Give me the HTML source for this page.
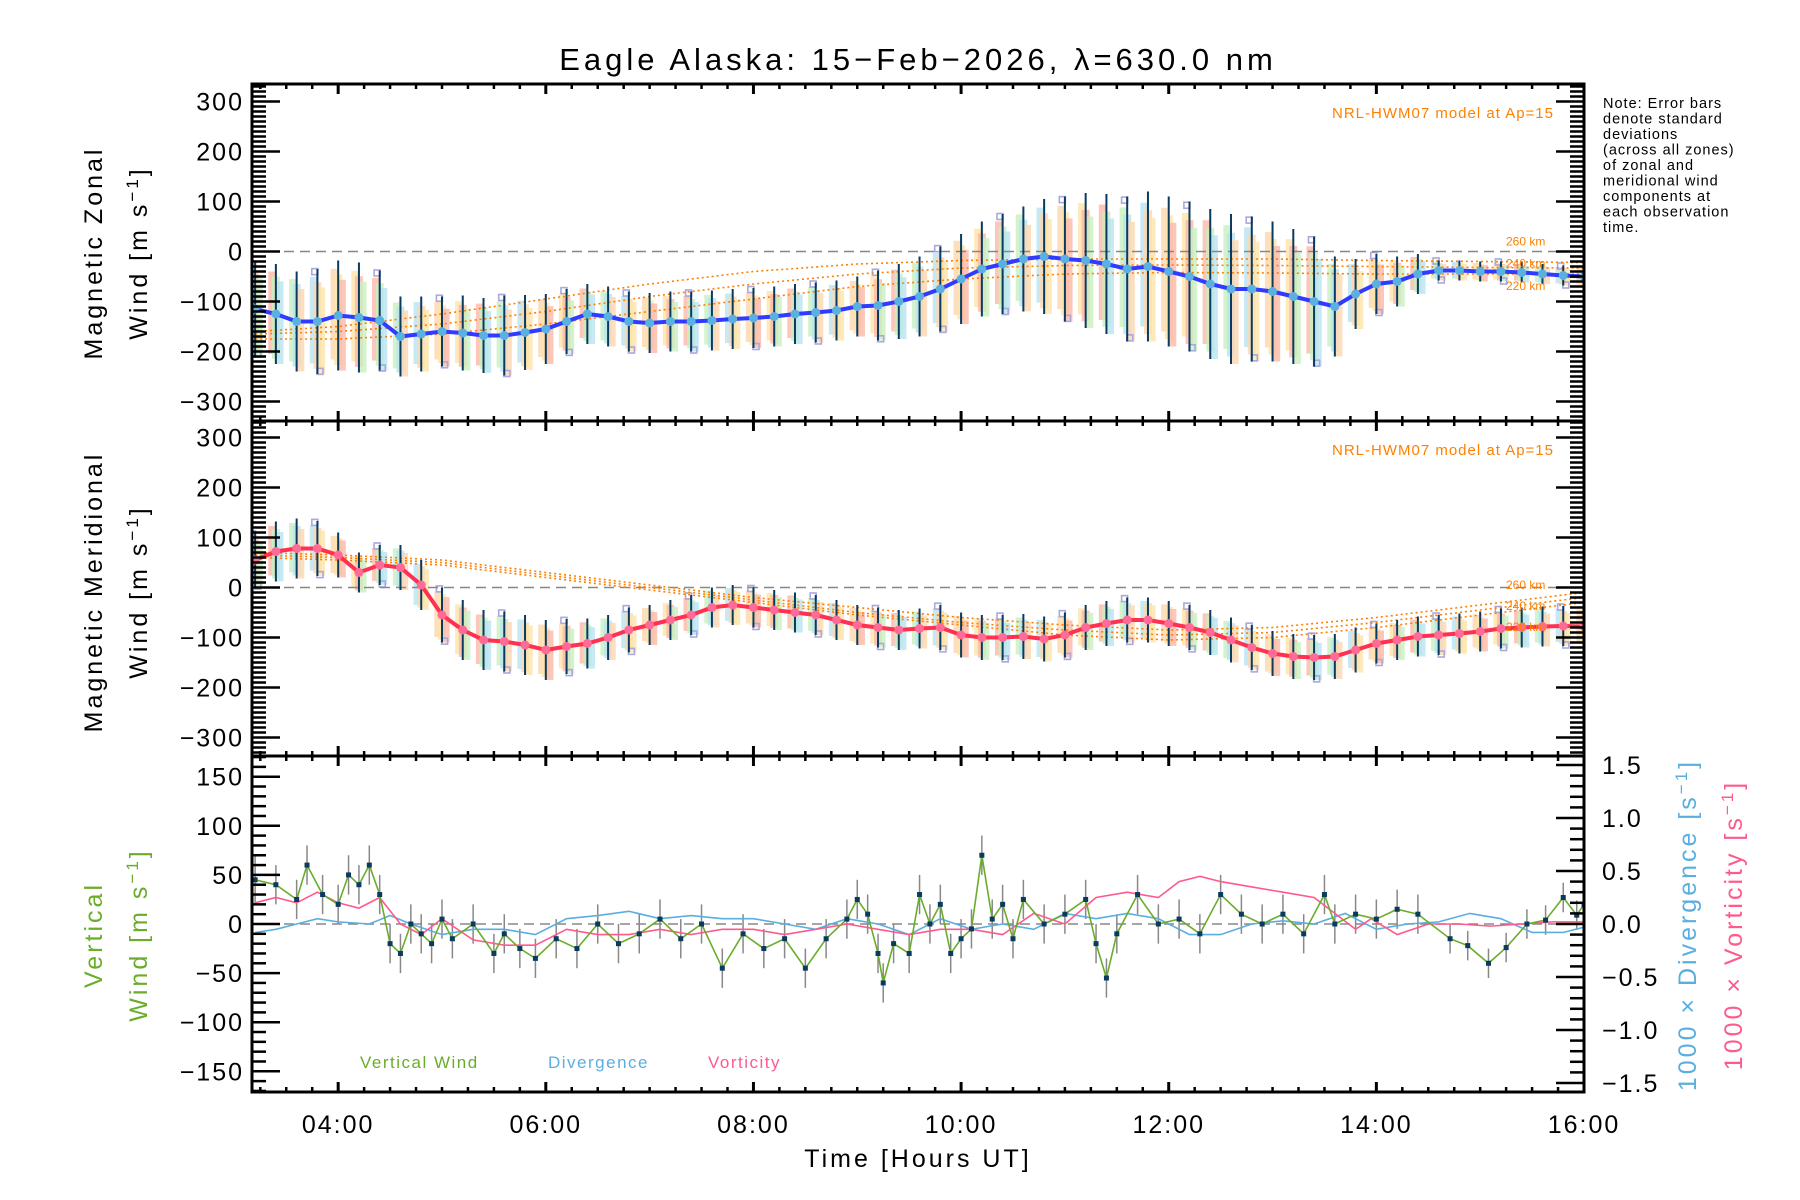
<!DOCTYPE html>
<html><head><meta charset="utf-8">
<style>
html,body{margin:0;padding:0;background:#fff;}
svg{display:block;font-family:"Liberation Sans",sans-serif;}
</style></head>
<body>
<svg id="chart" width="1800" height="1200" viewBox="0 0 1800 1200" xmlns="http://www.w3.org/2000/svg">
<rect x="0" y="0" width="1800" height="1200" fill="#fff"/>
<text x="918" y="70" font-size="31" letter-spacing="4" text-anchor="middle" fill="#000">Eagle Alaska: 15−Feb−2026, λ=630.0 nm</text>
<g id="plots"></g>
<text font-size="14.5" letter-spacing="1" fill="#000">
<tspan x="1603" y="108">Note: Error bars</tspan>
<tspan x="1603" y="123.5">denote standard</tspan>
<tspan x="1603" y="139">deviations</tspan>
<tspan x="1603" y="154.5">(across all zones)</tspan>
<tspan x="1603" y="170">of zonal and</tspan>
<tspan x="1603" y="185.5">meridional wind</tspan>
<tspan x="1603" y="201">components at</tspan>
<tspan x="1603" y="216.5">each observation</tspan>
<tspan x="1603" y="232">time.</tspan>
</text>
<text transform="translate(102,253) rotate(-90)" font-size="25" letter-spacing="3" text-anchor="middle">Magnetic Zonal</text>
<text transform="translate(147,253) rotate(-90)" font-size="25" letter-spacing="3" text-anchor="middle">Wind [m s<tspan baseline-shift="super" font-size="17">−1</tspan>]</text>
<text transform="translate(102,592) rotate(-90)" font-size="25" letter-spacing="3" text-anchor="middle">Magnetic Meridional</text>
<text transform="translate(147,592) rotate(-90)" font-size="25" letter-spacing="3" text-anchor="middle">Wind [m s<tspan baseline-shift="super" font-size="17">−1</tspan>]</text>
<text transform="translate(102,935) rotate(-90)" font-size="25" letter-spacing="3" text-anchor="middle" fill="#6aad2a">Vertical</text>
<text transform="translate(147,935) rotate(-90)" font-size="25" letter-spacing="3" text-anchor="middle" fill="#6aad2a">Wind [m s<tspan baseline-shift="super" font-size="17">−1</tspan>]</text>
<text transform="translate(1696,925) rotate(-90)" font-size="25" letter-spacing="3" text-anchor="middle" fill="#5aaee0">1000 × Divergence [s<tspan baseline-shift="super" font-size="17">−1</tspan>]</text>
<text transform="translate(1742,925) rotate(-90)" font-size="25" letter-spacing="3" text-anchor="middle" fill="#ff5a8c">1000 × Vorticity [s<tspan baseline-shift="super" font-size="17">−1</tspan>]</text>
<text x="918" y="1167" font-size="25" letter-spacing="3" text-anchor="middle">Time [Hours UT]</text>
<text x="360" y="1068" font-size="17" letter-spacing="1.5" fill="#6aad2a">Vertical Wind</text>
<text x="548" y="1068" font-size="17" letter-spacing="1.5" fill="#5aaee0">Divergence</text>
<text x="708" y="1068" font-size="17" letter-spacing="1.5" fill="#ff5a8c">Vorticity</text>
</svg>
<script>
// ---- data ----
const meanTimes = [3.2,3.4,3.6,3.8,4.0,4.2,4.4,4.6,4.8,5.0,5.2,5.4,5.6,5.8,6.0,6.2,6.4,6.6,6.8,7.0,7.2,7.4,7.6,7.8,8.0,8.2,8.4,8.6,8.8,9.0,9.2,9.4,9.6,9.8,10.0,10.2,10.4,10.6,10.8,11.0,11.2,11.4,11.6,11.8,12.0,12.2,12.4,12.6,12.8,13.0,13.2,13.4,13.6,13.8,14.0,14.2,14.4,14.6,14.8,15.0,15.2,15.4,15.6,15.8,16.0];
const zonalMean = [-115,-125,-140,-140,-128,-132,-138,-170,-165,-160,-163,-168,-168,-162,-155,-140,-125,-130,-140,-143,-140,-140,-138,-135,-133,-130,-125,-122,-118,-110,-108,-100,-90,-75,-55,-35,-25,-15,-10,-15,-18,-25,-35,-30,-40,-50,-65,-75,-75,-80,-90,-100,-110,-85,-65,-60,-45,-38,-38,-40,-40,-42,-45,-48,-50];
const zonalErr = [95,100,100,105,110,110,100,80,75,70,75,75,80,75,70,65,60,60,60,60,60,60,60,60,60,60,60,60,60,60,70,75,80,85,90,95,100,105,115,125,135,140,145,150,150,150,150,150,145,140,135,130,100,70,60,50,40,20,20,20,20,20,20,20,20];
const meridMean = [55,72,78,78,65,30,45,40,5,-55,-85,-105,-108,-115,-125,-118,-112,-100,-85,-75,-65,-55,-40,-35,-40,-45,-50,-55,-65,-75,-80,-85,-82,-80,-95,-100,-100,-98,-103,-95,-80,-72,-65,-65,-72,-80,-90,-105,-120,-132,-138,-140,-138,-125,-112,-105,-98,-95,-92,-88,-82,-80,-78,-77,-78];
const meridErr = [55,60,60,55,45,40,40,45,50,55,60,60,60,60,60,55,50,45,45,40,40,40,40,40,40,40,40,40,40,40,40,40,40,45,45,45,45,45,45,45,45,45,45,45,45,45,45,45,45,45,45,45,45,45,40,40,40,40,40,40,40,40,40,40,40];
const modelTimes = [3.2,4,5,6,7,8,9,10,11,12,13,14,15,16];
const zonalModel260 = [-160,-150,-125,-95,-65,-40,-25,-18,-15,-15,-15,-18,-20,-22];
const zonalModel240 = [-165,-160,-145,-120,-90,-65,-45,-33,-28,-27,-28,-30,-32,-33];
const zonalModel220 = [-175,-175,-165,-145,-120,-95,-70,-55,-45,-42,-43,-45,-45,-45];
const meridModel260 = [70,65,55,30,5,-20,-40,-60,-75,-85,-80,-60,-35,-10];
const meridModel240 = [65,60,50,25,0,-25,-50,-70,-85,-95,-90,-70,-45,-20];
const meridModel220 = [60,55,45,20,-5,-30,-55,-75,-95,-105,-100,-80,-55,-30];
const vertTimes = [3.2,3.4,3.6,3.7,3.85,4.0,4.1,4.2,4.3,4.4,4.5,4.6,4.7,4.8,4.9,5.0,5.1,5.3,5.5,5.6,5.75,5.9,6.1,6.3,6.5,6.7,6.9,7.1,7.3,7.5,7.7,7.9,8.1,8.3,8.5,8.7,8.9,9.0,9.1,9.2,9.25,9.35,9.5,9.6,9.7,9.8,9.9,10.0,10.1,10.2,10.3,10.4,10.5,10.6,10.8,11.0,11.2,11.3,11.4,11.5,11.7,11.9,12.1,12.3,12.5,12.7,12.9,13.1,13.3,13.5,13.6,13.8,14.0,14.2,14.4,14.71,14.88,15.08,15.25,15.45,15.63,15.8,15.93,16.0];
const vertWind = [45,40,25,60,30,20,50,40,60,30,-20,-30,0,-10,-20,5,-15,0,-30,-10,-25,-35,-15,-25,0,-20,-10,5,-15,0,-45,-10,-25,-15,-45,-15,5,25,10,-30,-60,-20,-30,30,0,20,-30,-15,-5,70,5,20,-15,25,0,10,25,-20,-55,-10,30,0,5,-10,30,10,0,10,-10,30,0,10,5,15,10,-15,-22,-40,-24,0,4,27,9,20];
const vertErr = [25,20,20,20,20,20,20,20,20,20,20,20,20,20,20,20,20,20,20,20,20,20,20,20,20,20,20,20,20,20,20,20,20,20,20,20,20,20,20,20,20,20,20,20,20,20,20,20,20,20,20,20,20,20,20,20,20,20,20,20,20,20,20,20,20,20,20,20,20,20,20,20,20,20,20,15,15,15,15,15,15,15,15,15];
const divTimes = [3.2,3.4,3.6,3.8,4.0,4.3,4.5,4.7,5.0,5.3,5.6,5.9,6.2,6.5,6.8,7.1,7.4,7.7,8.0,8.3,8.6,8.9,9.2,9.5,9.8,10.1,10.4,10.7,11.0,11.3,11.6,11.9,12.2,12.5,12.8,13.1,13.4,13.7,14.0,14.3,14.6,14.9,15.2,15.5,15.8,16.0];
const divValues = [-0.08,-0.05,0.0,0.05,0.02,0.0,0.08,0.0,-0.1,-0.05,-0.05,-0.1,0.05,0.08,0.12,0.05,0.08,0.05,0.05,0.0,-0.05,0.05,0.0,-0.1,0.05,-0.05,0.0,-0.05,0.1,0.05,0.1,0.05,-0.1,-0.1,0.0,0.03,0.0,0.1,-0.05,0.0,0.02,0.1,0.05,-0.08,-0.08,-0.03];
const vortTimes = [3.2,3.4,3.6,3.8,4.0,4.2,4.4,4.6,4.8,5.0,5.3,5.6,5.9,6.2,6.5,6.8,7.1,7.4,7.7,8.0,8.3,8.6,8.9,9.2,9.5,9.8,10.1,10.4,10.7,11.0,11.3,11.6,11.9,12.1,12.3,12.5,12.8,13.1,13.4,13.6,13.8,13.95,14.2,14.5,14.8,15.1,15.4,15.7,16.0];
const vortValues = [0.2,0.25,0.2,0.3,0.2,0.15,0.25,0.0,-0.1,0.05,-0.15,-0.2,-0.2,-0.05,-0.1,-0.1,-0.05,-0.1,-0.05,-0.05,-0.1,-0.05,0.0,-0.05,-0.1,-0.05,-0.05,-0.1,0.1,0.0,0.25,0.3,0.25,0.4,0.45,0.4,0.35,0.3,0.25,0.1,-0.05,0.05,-0.1,0.0,0.0,-0.02,0.0,0.02,0.02];
const xTickLabels = ["04:00","06:00","08:00","10:00","12:00","14:00","16:00"];
const xTickHours = [4,6,8,10,12,14,16];
const windTicks = [-300,-200,-100,0,100,200,300];
const vertTicks = [-150,-100,-50,0,50,100,150];
const rightTicks = [-1.5,-1.0,-0.5,0.0,0.5,1.0,1.5];

// ---- layout ----
const NS = "http://www.w3.org/2000/svg";
const L = 252, R = 1584, T0 = 3.17, T1 = 16.0;
const P = [{top:84,bot:421,zero:251.5,k:0.5},{top:421,bot:756,zero:587.5,k:0.5},{top:756,bot:1092,zero:924,k:0.982}];
const rk = 159/1.5;
const X = t => L + (t - T0) * (R - L) / (T1 - T0);
const Y = (p, v) => P[p].zero - v * P[p].k;
const YR = v => P[2].zero - v * rk;
const root = document.getElementById('plots');
function mk(tag, attrs, parent) {
  const e = document.createElementNS(NS, tag);
  for (const a in attrs) e.setAttribute(a, attrs[a]);
  (parent || root).appendChild(e);
  return e;
}
function clip(p) {
  const c = mk('clipPath', {id: 'clip' + p});
  mk('rect', {x: L, y: P[p].top, width: R - L, height: P[p].bot - P[p].top}, c);
  return mk('g', {'clip-path': 'url(#clip' + p + ')'});
}
const fmt = v => (v < 0 ? '−' : '') + Math.abs(v);

function windPanel(p, mean, err, m260, m240, m220, lineCol, dotCol, nameBase) {
  const g = clip(p);
  
  
  const pastel = ['#fde3a8', '#fbb9a8', '#c8f0c0', '#b8e4f0', '#fdd7b0'];
  meanTimes.forEach((t, i) => {
    for (let j = 0; j < 3; j++) {
      const off = (j - 1) * 0.035;
      const top = mean[i] + err[i] * (0.85 - 0.1 * j);
      const bot = mean[i] - err[i] * (0.8 + 0.1 * j);
      const r = mk('rect', {x: X(t + off) - 4, y: Y(p, top), width: 8, height: Y(p, bot) - Y(p, top), fill: pastel[(i + j) % 5], opacity: 0.8}, g);
      
      
    }
    if (i % 3 === 0) {
      [0.95, -0.95].forEach((f, j) => {
        const s = mk('rect', {x: X(t + (j - 0.5) * 0.05) - 3, y: Y(p, mean[i] + err[i] * f) - 3, width: 6, height: 6, fill: 'none', stroke: '#aaa8dc', 'stroke-width': 1.6}, g);
        
        
      });
    }
  });
  const z = mk('line', {x1: L, x2: R, y1: Y(p, 0), y2: Y(p, 0), stroke: '#888', 'stroke-width': 1.5, 'stroke-dasharray': '10,6'}, g);
  
  
  [[m260, '260 km', -8], [m240, '240 km', 8], [m220, '220 km', 24]].forEach(([arr, lbl, dy]) => {
    const pl = mk('polyline', {points: modelTimes.map((t, i) => X(t) + ',' + Y(p, arr[i])).join(' '), fill: 'none', stroke: '#ff8000', 'stroke-width': 1.6, 'stroke-dasharray': '2,3'}, g);
    
    
    const tx = mk('text', {x: 1506, y: Y(p, arr[arr.length - 2]) + dy - 8, 'font-size': 12, fill: '#ff8000'});
    tx.textContent = lbl;
    
    
  });
  meanTimes.forEach((t, i) => {
    const b = mk('line', {x1: X(t), x2: X(t), y1: Y(p, mean[i] + err[i]), y2: Y(p, mean[i] - err[i]), stroke: '#0a3a5e', 'stroke-width': 2}, g);
    
    
  });
  const ml = mk('polyline', {points: meanTimes.map((t, i) => X(t) + ',' + Y(p, mean[i])).join(' '), fill: 'none', stroke: lineCol, 'stroke-width': 4}, g);
  
  
  meanTimes.forEach((t, i) => {
    const c = mk('circle', {cx: X(t), cy: Y(p, mean[i]), r: 4.5, fill: dotCol}, g);
    
    
  });
  const nl = mk('text', {x: 1554, y: P[p].top + 34, 'font-size': 15, 'letter-spacing': 1, fill: '#ff8000', 'text-anchor': 'end'});
  nl.textContent = 'NRL-HWM07 model at Ap=15';
  
  
}
windPanel(0, zonalMean, zonalErr, zonalModel260, zonalModel240, zonalModel220, '#2f3cff', '#5ab0e0', 'zonal');
windPanel(1, meridMean, meridErr, meridModel260, meridModel240, meridModel220, '#ff3050', '#ff6a96', 'meridional');

(function () {
  const g = clip(2);
  
  
  const z = mk('line', {x1: L, x2: R, y1: Y(2, 0), y2: Y(2, 0), stroke: '#888', 'stroke-width': 1.5, 'stroke-dasharray': '10,6'}, g);
  
  
  vertTimes.forEach((t, i) => {
    const b = mk('line', {x1: X(t), x2: X(t), y1: Y(2, vertWind[i] + vertErr[i]), y2: Y(2, vertWind[i] - vertErr[i]), stroke: '#888', 'stroke-width': 1.5}, g);
    
    
  });
  const dl = mk('polyline', {points: divTimes.map((t, i) => X(t) + ',' + YR(divValues[i])).join(' '), fill: 'none', stroke: '#5aaee0', 'stroke-width': 1.6}, g);
  
  
  const vl = mk('polyline', {points: vortTimes.map((t, i) => X(t) + ',' + YR(vortValues[i])).join(' '), fill: 'none', stroke: '#ff5a8c', 'stroke-width': 1.6}, g);
  
  
  const wl = mk('polyline', {points: vertTimes.map((t, i) => X(t) + ',' + Y(2, vertWind[i])).join(' '), fill: 'none', stroke: '#6aad2a', 'stroke-width': 1.6}, g);
  
  
  vertTimes.forEach((t, i) => {
    const s = mk('rect', {x: X(t) - 2.5, y: Y(2, vertWind[i]) - 2.5, width: 5, height: 5, fill: '#0a3a5e'}, g);
    
    
  });
})();

const ax = mk('g', {stroke: '#000'});


P.forEach((pp, p) => {
  const fr = mk('rect', {x: L, y: pp.top, width: R - L, height: pp.bot - pp.top, fill: 'none', 'stroke-width': 3}, ax);
  
  
  for (let m = Math.ceil(T0 * 4); m <= T1 * 4; m++) {
    const t = m / 4, major = (m % 8 === 0), len = major ? 10 : 5;
    mk('line', {x1: X(t), x2: X(t), y1: pp.bot, y2: pp.bot - len, 'stroke-width': major ? 3 : 2.5}, ax);
    mk('line', {x1: X(t), x2: X(t), y1: pp.top, y2: pp.top + len, 'stroke-width': major ? 3 : 2.5}, ax);
  }
});
function yTicks(p, lo, hi, step, majorStep, side, Yf) {
  const pp = P[p];
  for (let v = lo; v <= hi + 1e-9; v += step) {
    const y = Yf(v);
    if (y < pp.top - 0.5 || y > pp.bot + 0.5) continue;
    const major = Math.abs(v / majorStep - Math.round(v / majorStep)) < 1e-6;
    const len = major ? 28 : 14;
    const x0 = side === 'L' ? L : R;
    const x1 = side === 'L' ? L + len : R - len;
    mk('line', {x1: x0, x2: x1, y1: y, y2: y, 'stroke-width': 2.5}, ax);
  }
}
yTicks(0, -340, 340, 10, 100, 'L', v => Y(0, v));
yTicks(0, -340, 340, 10, 100, 'R', v => Y(0, v));
yTicks(1, -340, 340, 10, 100, 'L', v => Y(1, v));
yTicks(1, -340, 340, 10, 100, 'R', v => Y(1, v));
yTicks(2, -170, 170, 10, 50, 'L', v => Y(2, v));
yTicks(2, -1.6, 1.6, 0.1, 0.5, 'R', v => YR(v));

function label(x, y, txt, anchor, name) {
  const t = mk('text', {x: x, y: y, 'font-size': 25, 'letter-spacing': 2, 'text-anchor': anchor, fill: '#000'});
  t.textContent = txt;
  
  
}
[0, 1].forEach(p => windTicks.forEach(v => label(L - 8, Y(p, v) + 9, fmt(v), 'end', 'wind-y-tick-label')));
vertTicks.forEach(v => label(L - 8, Y(2, v) + 9, fmt(v), 'end', 'vertical-y-tick-label'));
rightTicks.forEach(v => label(1602, YR(v) + 9, (v < 0 ? '−' : '') + Math.abs(v).toFixed(1), 'start', 'right-y-tick-label'));
xTickHours.forEach((h, i) => label(X(h), 1133, xTickLabels[i], 'middle', 'x-tick-label'));
</script>
</body></html>
